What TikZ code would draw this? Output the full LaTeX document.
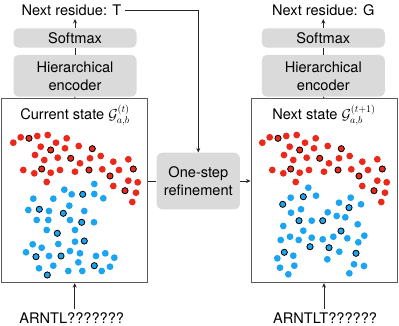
\documentclass[tikz,border=0pt]{standalone}
\usepackage{fontspec}
\setmainfont{TeX Gyre Heros}
\usetikzlibrary{arrows.meta,positioning}

\definecolor{dotred}{RGB}{234,40,28}
\definecolor{dotblue}{RGB}{28,164,240}
\definecolor{boxgray}{RGB}{218,218,218}
\definecolor{framegray}{RGB}{90,90,90}

\begin{document}
\begin{tikzpicture}[
    x=1pt, y=-1pt,
    font=\fontsize{14.6}{18}\selectfont,
    >={Stealth[length=4.5pt,width=4pt]},
    block/.style={fill=boxgray, rounded corners=5pt, align=center, inner sep=0pt,
                  minimum width=123pt},
    panel/.style={draw=framegray, line width=0.9pt, inner sep=0pt,
                  minimum width=146pt, minimum height=184.4pt},
    link/.style={draw=black!85, line width=0.9pt},
    dotr/.style={fill=dotred},
    dotb/.style={fill=dotblue},
    ring/.style={draw=black, line width=0.8pt},
]
\useasboundingbox (0,0) rectangle (399,326);

% ---- Left column: current state ------------------------------------
\node[panel] (panelL) at (74.7,190.5) {};
\node (stateL) at (75,115) {Current state $\mathcal{G}^{(t)}_{a,b}$};
\node[block, minimum height=41.7pt] (encL) at (75,75.8) {Hierarchical\\encoder};
\node[block, minimum height=19.4pt] (softL) at (75,38) {Softmax};
\node (nextL) at (71.5,10) {Next residue: T};
\node (seqL) at (71.7,318) {ARNTL???????};

% ---- Middle: refinement --------------------------------------------
\node[block, minimum width=83.3pt, minimum height=56.6pt, rounded corners=6pt] (refine) at (198.3,181) {One-step\\refinement};

% ---- Right column: next state --------------------------------------
\node[panel] (panelR) at (324,190.5) {};
\node (stateR) at (324,115) {Next state $\mathcal{G}^{(t+1)}_{a,b}$};
\node[block, minimum height=41.7pt] (encR) at (323.3,75.8) {Hierarchical\\encoder};
\node[block, minimum height=19.4pt] (softR) at (323.3,38) {Softmax};
\node (nextR) at (323.3,10) {Next residue: G};
\node (seqR) at (325,318) {ARNTLT??????};

% ---- Edges ---------------------------------------------------------
\foreach \c in {L,R} {
    \draw[link] (panel\c.north) -- (enc\c.south);
    \draw[link] (enc\c.north) -- (soft\c.south);
    \draw[link,->] (soft\c.north) -- (soft\c.north |- next\c.south);
    \draw[link,->] (panel\c.south |- seq\c.north) -- (panel\c.south);
}
\draw[link,->] (nextL.east) -| (refine.north);
\draw[link] (refine.west) -- (refine.west -| panelL.east);
\draw[link,->] (refine.east) -- (refine.east -| panelR.west);

% ---- Red cluster (same in both panels) -----------------------------
\foreach \s in {0,249} {
  \begin{scope}[xshift=\s pt]
    \foreach \x/\y in {13.3/142.7, 20.7/137.3, 37.3/136, 47.7/135, 66.7/138.3,
        40.7/146.7, 56/142.7, 65/148.3, 78.7/146, 35/155, 44.3/160, 57.7/157.7,
        80/163.3, 90/158.3, 100.7/156, 113.3/161.7, 128.3/159.3, 23.3/170,
        34.3/173.3, 50.7/172.7, 60/170, 75/171.7, 102.3/169.3, 119/170,
        128.3/180.7, 137.7/182.3, 46.7/182, 113.3/186, 136/192.7, 132.3/202}
        \fill[dotr] (\x,\y) circle (3.4pt);
    \foreach \x/\y in {29/138.3, 50.7/150, 92.3/148.7, 70.7/158.3, 41.7/169,
        89/170, 133.3/169, 110/176, 125/190.7}
        \filldraw[dotr,ring] (\x,\y) circle (3.1pt);
  \end{scope}
}

% ---- Blue cluster, current state -----------------------------------
\foreach \x/\y in {94.3/184, 64.3/189.7, 71.7/194.3, 94.3/194, 103.3/198.3,
    33.3/198.7, 53.3/198.7, 69.3/205.7, 28.3/210, 49/211, 84.3/211, 36.7/220,
    48.3/220, 70/220, 94/222.3, 46.7/230, 75/230, 58.3/244, 75/241.7,
    32.7/244.3, 41.7/247.7, 26/252.3, 49/256, 70/251, 80/253.3, 96/256,
    105.3/253.3, 114.3/257.7, 78.3/262.3, 53.3/265.7, 39/268.3, 68.3/271,
    82.3/271, 101.7/271, 110/266.7}
    \fill[dotb] (\x,\y) circle (3.4pt);
\foreach \x/\y in {82.7/194.3, 39.3/209.3, 63.3/213.3, 81.7/222.3, 57.3/233.3,
    84.3/241, 36/256.7, 61/256, 94.3/265.7, 47.3/275}
    \filldraw[dotb,ring] (\x,\y) circle (3.1pt);

% ---- Blue cluster, next state --------------------------------------
\foreach \x/\y in {308.3/187.7, 316/195.7, 290.7/197.7, 301/209.3, 291/212.7,
    311.7/220.7, 283.3/226, 303.3/230.7, 327.7/212.3, 336.7/216, 339/202.7,
    350.7/197.7, 361/204.3, 345.3/217.3, 357.7/224.3, 364.3/235.7, 347.3/238.3,
    358.3/242.3, 333.3/236.7, 322.7/239.3, 311.7/237.7, 298.7/240, 290/236.7,
    280.7/240, 339.3/251.7, 293.3/255.7, 277.3/258.3, 327.3/259.3, 280/267.7,
    294.3/265.7, 354/264.3, 364/266, 349.3/273.3, 288.3/274.3}
    \fill[dotb] (\x,\y) circle (3.4pt);
\foreach \x/\y in {303.3/196.7, 282.7/204.3, 299/220.7, 322.7/220.7, 349/207.7,
    341/231, 310/246.7, 329/247.7, 356/253.3, 284.3/252.3}
    \filldraw[dotb,ring] (\x,\y) circle (3.1pt);

\end{tikzpicture}
\end{document}
